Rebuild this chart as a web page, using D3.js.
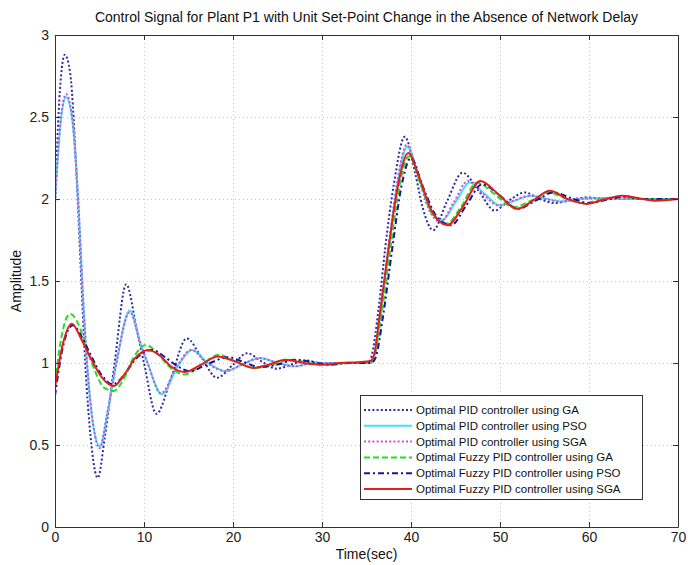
<!DOCTYPE html>
<html>
<head>
<meta charset="utf-8">
<script src="https://cdn.jsdelivr.net/npm/d3@7"></script>
<style>
  html, body { margin: 0; padding: 0; background: #fff; }
  svg { display: block; font-family: "Liberation Sans", Arial, Helvetica, sans-serif; }
</style>
</head>
<body>
<svg id="chart" width="688" height="565"></svg>
<script>
// ---- data ----
const titleText = "Control Signal for Plant P1 with Unit Set-Point Change in the Absence of Network Delay";
const xLabel = "Time(sec)";
const yLabel = "Amplitude";
const xTicks = [0, 10, 20, 30, 40, 50, 60, 70];
const yTicks = [0, 0.5, 1, 1.5, 2, 2.5, 3];
const yTickLabels = ["0", "0.5", "1", "1.5", "2", "2.5", "3"];

const seriesNames = [
  "Optimal PID controller using GA",
  "Optimal PID controller using PSO",
  "Optimal PID controller using SGA",
  "Optimal Fuzzy PID controller using GA",
  "Optimal Fuzzy PID controller using PSO",
  "Optimal Fuzzy PID controller using SGA"
];

// Optimal PID controller using GA
const pidGA_t = [0, 0.55, 1.1, 1.7, 2.5, 3.0, 3.4, 4.0, 4.8, 5.6, 6.7, 8.0, 9.2, 10.0, 11.4, 13.0, 14.8, 16.5, 18.2, 20.0, 21.6, 23.2, 24.9, 26.5, 28.2, 30, 32, 35.1, 35.5, 36.4, 37.1, 38.1, 39.3, 40.5, 41.3, 42.5, 44.0, 45.8, 47.6, 49.4, 51.0, 52.8, 54.5, 56.2, 58, 59.8, 62, 65, 70];
const pidGA_v = [1.98, 2.66, 2.88, 2.77, 2.05, 1.45, 1.0, 0.55, 0.3, 0.55, 1.0, 1.48, 1.2, 1.0, 0.69, 0.9, 1.15, 1.03, 0.91, 0.99, 1.06, 1.01, 0.965, 0.99, 1.015, 1.0, 1.0, 1.0, 1.03, 1.35, 1.7, 2.1, 2.38, 2.15, 1.95, 1.81, 1.98, 2.16, 2.05, 1.93, 1.99, 2.04, 2.0, 1.975, 1.995, 2.01, 2.0, 2.0, 2.0];

// Optimal PID controller using PSO
const pidPSO_t = [0, 0.6, 1.25, 1.9, 2.6, 3.1, 3.6, 4.3, 5.05, 5.9, 6.9, 8.4, 9.6, 10.4, 12.0, 13.8, 15.4, 17.2, 19.2, 21, 23, 25, 27, 29, 32, 35.3, 35.8, 36.7, 37.5, 38.5, 39.6, 40.8, 42, 43.5, 45, 46.6, 48.3, 50, 51.7, 53.5, 55.3, 57, 59, 61, 65, 70];
const pidPSO_v = [1.98, 2.45, 2.62, 2.5, 2.0, 1.45, 1.0, 0.62, 0.49, 0.7, 1.0, 1.32, 1.12, 1.0, 0.81, 0.98, 1.08, 1.0, 0.95, 0.99, 1.03, 1.0, 0.98, 1.0, 1.0, 1.0, 1.04, 1.35, 1.7, 2.1, 2.32, 2.15, 1.95, 1.87, 1.98, 2.1, 2.03, 1.96, 1.99, 2.02, 2.0, 1.985, 2.0, 2.005, 2.0, 2.0];

// Optimal PID controller using SGA
const pidSGA_t = [0, 0.6, 1.25, 1.9, 2.6, 3.1, 3.6, 4.3, 5.0, 5.9, 6.9, 8.4, 9.6, 10.4, 11.9, 13.7, 15.3, 17.1, 19.1, 21, 23, 25, 27, 29, 32, 35.3, 35.8, 36.7, 37.5, 38.5, 39.5, 40.7, 41.9, 43.3, 44.8, 46.4, 48.1, 49.8, 51.5, 53.3, 55.1, 56.8, 58.8, 61, 65, 70];
const pidSGA_v = [1.98, 2.46, 2.64, 2.51, 2.0, 1.45, 1.0, 0.62, 0.48, 0.7, 1.0, 1.31, 1.12, 1.0, 0.815, 0.98, 1.08, 1.0, 0.95, 0.99, 1.03, 1.0, 0.98, 1.0, 1.0, 1.0, 1.04, 1.36, 1.72, 2.12, 2.33, 2.16, 1.95, 1.86, 1.98, 2.11, 2.03, 1.96, 1.99, 2.02, 2.0, 1.985, 2.0, 2.005, 2.0, 2.0];

// Optimal Fuzzy PID controller using GA
const fzGA_t = [0, 0.8, 1.7, 2.6, 3.5, 4.5, 5.5, 6.6, 7.7, 8.8, 10.2, 11.5, 12.8, 14.6, 16.5, 18.4, 20.2, 22.5, 24.5, 26.5, 28.5, 30.5, 33, 35.4, 35.9, 36.7, 37.7, 38.7, 39.8, 41, 42.5, 44, 45.6, 47.4, 49.4, 51.5, 53.5, 55.5, 57.5, 59.5, 61.5, 63.5, 66, 70];
const fzGA_v = [0.88, 1.18, 1.30, 1.24, 1.1, 0.95, 0.85, 0.83, 0.9, 1.03, 1.11, 1.06, 0.98, 0.93, 0.99, 1.05, 1.01, 0.97, 0.99, 1.02, 1.0, 0.99, 1.0, 1.0, 1.04, 1.3, 1.7, 2.08, 2.26, 2.1, 1.9, 1.85, 1.95, 2.1, 2.03, 1.95, 1.99, 2.04, 2.0, 1.975, 2.0, 2.015, 2.0, 2.0];

// Optimal Fuzzy PID controller using PSO
const fzPSO_t = [0, 0.9, 2.0, 3.0, 4.0, 5.2, 6.5, 7.8, 9.0, 10.9, 12.5, 13.5, 15.2, 17, 19.5, 21, 23, 25, 27, 29, 31, 33, 35.5, 36.0, 36.9, 37.9, 38.9, 40.0, 41.3, 42.8, 44.5, 46.2, 48.0, 50.0, 52.0, 54.0, 56.0, 58.0, 60.0, 62.0, 64.0, 66, 70];
const fzPSO_v = [0.8, 1.1, 1.23, 1.16, 1.05, 0.93, 0.87, 0.93, 1.02, 1.08, 1.03, 0.99, 0.95, 0.99, 1.035, 1.01, 0.975, 0.99, 1.02, 1.005, 0.99, 1.0, 1.0, 1.03, 1.3, 1.7, 2.07, 2.25, 2.08, 1.9, 1.84, 1.96, 2.09, 2.02, 1.94, 1.99, 2.04, 2.005, 1.975, 1.995, 2.015, 2.0, 2.0];

// Optimal Fuzzy PID controller using SGA
const fzSGA_t = [0, 0.9, 1.9, 3.0, 4.1, 5.3, 6.6, 7.8, 9.0, 10.5, 11.9, 13.0, 14.6, 16.4, 18.3, 20.2, 22.3, 24, 25.9, 28, 30, 32, 34, 35.4, 35.9, 36.4, 37.4, 38.5, 39.7, 40.8, 42.3, 44.1, 45.8, 47.8, 49.8, 51.9, 53.7, 55.6, 57.6, 59.7, 61.6, 63.7, 65.6, 67.5, 70];
const fzSGA_v = [0.85, 1.12, 1.24, 1.14, 1.02, 0.91, 0.86, 0.93, 1.03, 1.08, 1.04, 0.98, 0.945, 0.99, 1.04, 1.01, 0.97, 0.99, 1.02, 1.0, 0.99, 1.0, 1.005, 1.01, 1.06, 1.26, 1.67, 2.07, 2.28, 2.15, 1.93, 1.84, 1.95, 2.11, 2.03, 1.94, 1.99, 2.05, 2.0, 1.97, 1.995, 2.02, 2.005, 1.99, 2.0];

// ---- styles (draw order: later series on top) ----
const seriesStyles = [
  { color: "#2b2ba3", dash: "2,2.2", width: 2 },
  { color: "#3fe3f2", dash: null, width: 2 },
  { color: "#d64ad8", dash: "2,2.2", width: 2 },
  { color: "#25dc25", dash: "6,3", width: 2 },
  { color: "#1414a0", dash: "6,3,2,3", width: 2 },
  { color: "#e0201c", dash: null, width: 2 }
];

const seriesData = [
  [pidGA_t, pidGA_v],
  [pidPSO_t, pidPSO_v],
  [pidSGA_t, pidSGA_v],
  [fzGA_t, fzGA_v],
  [fzPSO_t, fzPSO_v],
  [fzSGA_t, fzSGA_v]
].map(([ts, vs]) => ts.map((t, i) => ({ t, v: vs[i] })));

// ---- layout ----
const svg = d3.select("#chart");
const plot = { left: 55, right: 678, top: 35, bottom: 527 };

const x = d3.scaleLinear().domain([0, 70]).range([plot.left, plot.right]);
const y = d3.scaleLinear().domain([0, 3]).range([plot.bottom, plot.top]);

svg.append("rect").attr("width", 688).attr("height", 565).attr("fill", "#fff");

// grid
const grid = svg.append("g").attr("stroke", "#c8c8c8").attr("stroke-width", 1).attr("stroke-dasharray", "1,3");
grid.selectAll("line.gx").data(xTicks.slice(1, -1)).join("line")
  .attr("x1", d => Math.round(x(d)) + 0.5).attr("x2", d => Math.round(x(d)) + 0.5)
  .attr("y1", plot.top).attr("y2", plot.bottom);
grid.selectAll("line.gy").data(yTicks.slice(1, -1)).join("line")
  .attr("y1", d => Math.round(y(d)) + 0.5).attr("y2", d => Math.round(y(d)) + 0.5)
  .attr("x1", plot.left).attr("x2", plot.right);

// curves
svg.append("clipPath").attr("id", "clip").append("rect")
  .attr("x", plot.left).attr("y", plot.top)
  .attr("width", plot.right - plot.left).attr("height", plot.bottom - plot.top);

const line = d3.line().x(d => x(d.t)).y(d => y(d.v)).curve(d3.curveMonotoneX);
const curves = svg.append("g").attr("clip-path", "url(#clip)");
seriesData.forEach((pts, i) => {
  const s = seriesStyles[i];
  curves.append("path")
    .attr("d", line(pts))
    .attr("fill", "none")
    .attr("stroke", s.color)
    .attr("stroke-width", s.width)
    .attr("stroke-dasharray", s.dash)
    .attr("stroke-linejoin", "round");
});

// axes (MATLAB-style box with inward ticks)
const fontSize = "14px";
const styleAxis = g => {
  g.select(".domain").attr("stroke", "#333");
  g.selectAll(".tick line").attr("stroke", "#333");
  g.selectAll(".tick text").attr("fill", "#222").style("font-size", fontSize)
    .style("font-family", '"Liberation Sans", Arial, sans-serif');
};
svg.append("g").attr("transform", `translate(0,${plot.bottom})`)
  .call(d3.axisBottom(x).tickValues(xTicks).tickSize(-5).tickSizeOuter(0).tickPadding(5))
  .call(styleAxis);
svg.append("g").attr("transform", `translate(0,${plot.top})`)
  .call(d3.axisTop(x).tickValues(xTicks).tickSize(-5).tickSizeOuter(0).tickFormat(""))
  .call(styleAxis);
svg.append("g").attr("transform", `translate(${plot.left},0)`)
  .call(d3.axisLeft(y).tickValues(yTicks).tickSize(-5).tickSizeOuter(0).tickPadding(6)
    .tickFormat((d, i) => yTickLabels[i]))
  .call(styleAxis);
svg.append("g").attr("transform", `translate(${plot.right},0)`)
  .call(d3.axisRight(y).tickValues(yTicks).tickSize(-5).tickSizeOuter(0).tickFormat(""))
  .call(styleAxis);

// title and axis labels
svg.append("text").attr("x", (plot.left + plot.right) / 2).attr("y", 22)
  .attr("text-anchor", "middle").style("font-size", "14px").attr("fill", "#111")
  .text(titleText);
svg.append("text").attr("x", (plot.left + plot.right) / 2).attr("y", 559)
  .attr("text-anchor", "middle").style("font-size", "14px").attr("fill", "#111")
  .text(xLabel);
svg.append("text").attr("transform", `translate(21,${(plot.top + plot.bottom) / 2}) rotate(-90)`)
  .attr("text-anchor", "middle").style("font-size", "14px").attr("fill", "#111")
  .text(yLabel);

// legend
const legend = svg.append("g").attr("transform", "translate(360,395)");
legend.append("rect").attr("x", 0.5).attr("y", 0.5).attr("width", 282).attr("height", 104)
  .attr("fill", "#fff").attr("stroke", "#333").attr("stroke-width", 1);
seriesNames.forEach((name, i) => {
  const s = seriesStyles[i];
  const cy = 15 + i * 15.8;
  legend.append("line").attr("x1", 4).attr("x2", 52).attr("y1", cy).attr("y2", cy)
    .attr("stroke", s.color).attr("stroke-width", s.width).attr("stroke-dasharray", s.dash);
  legend.append("text").attr("x", 56).attr("y", cy + 4)
    .style("font-size", "11.5px").attr("fill", "#111").text(name);
});
</script>
</body>
</html>
